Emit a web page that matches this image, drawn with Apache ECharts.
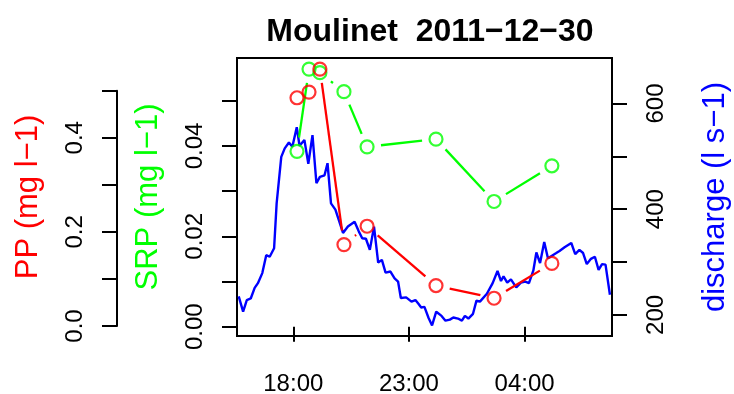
<!DOCTYPE html>
<html><head><meta charset="utf-8">
<script src="https://cdn.jsdelivr.net/npm/echarts@6/dist/echarts.min.js"></script>
<style>html,body{margin:0;padding:0;background:#fff}#c{width:734px;height:394px}</style>
</head><body><div id="c"></div>
<script>
const titleText = 'Moulinet  2011\u221212\u221230';
const xTickLabels = ['18:00', '23:00', '04:00'];
// sampling times, hours since 2011-12-30 00:00
const sampleHours = [18.16, 18.68, 19.15, 20.19, 21.19, 24.17, 26.68, 29.18];
const ppValues = [0.485, 0.497, 0.546, 0.173, 0.212, 0.086, 0.059, 0.133];
const srpValues = [0.0388, 0.0570, 0.0562, 0.0520, 0.0398, 0.0415, 0.0277, 0.0356];
const dischargeHours = [15.64, 15.83, 15.99, 16.16, 16.33, 16.47, 16.66, 16.83, 16.98, 17.17,
  17.28, 17.48, 17.63, 17.81, 17.96, 18.15, 18.27, 18.48, 18.65, 18.83,
  19.00, 19.15, 19.35, 19.48, 19.63, 19.82, 20.15, 20.36, 20.65, 20.83,
  20.98, 21.14, 21.31, 21.49, 21.67, 21.83, 21.99, 22.20, 22.38, 22.53,
  22.65, 22.88, 23.11, 23.28, 23.41, 23.53, 23.67, 23.85, 24.00, 24.18,
  24.41, 24.58, 24.77, 24.92, 25.12, 25.29, 25.42, 25.57, 25.77, 25.92,
  26.07, 26.37, 26.62, 26.83, 26.98, 27.09, 27.25, 27.41, 27.64, 27.84,
  28.03, 28.19, 28.38, 28.51, 28.67, 28.85, 29.01, 29.15, 29.37, 29.51,
  29.73, 30.02, 30.19, 30.37, 30.53, 30.69, 30.87, 31.04, 31.20, 31.35,
  31.50, 31.69];
const dischargeValues = [235, 206, 228, 231, 251, 260, 279, 313, 310, 326,
  411, 499, 515, 526, 518, 555, 520, 531, 486, 540,
  449, 461, 464, 487, 411, 399, 355, 367, 376, 358,
  345, 344, 323, 367, 299, 304, 280, 282, 269, 263,
  232, 233, 225, 228, 221, 214, 215, 194, 180, 206,
  198, 189, 191, 195, 193, 189, 198, 193, 202, 227,
  225, 240, 260, 283, 264, 273, 261, 267, 252, 261,
  263, 260, 284, 318, 298, 338, 307, 311, 317, 321,
  328, 336, 315, 323, 317, 296, 306, 310, 285, 296,
  295, 238];
const ppTicks = [0, 0.1, 0.2, 0.3, 0.4, 0.5];
const ppTickLabels = [0, 0.2, 0.4];
const srpTicks = [0, 0.01, 0.02, 0.03, 0.04, 0.05];
const srpTickLabels = [0, 0.02, 0.04];
const qTicks = [200, 300, 400, 500, 600];
const qTickLabels = [200, 400, 600];

const RED = '#FF0000', GREEN = '#00FF00', BLUE = '#0000FF';
const FONT = 'Liberation Sans';

function toHours(s) { let h = parseInt(s.split(':')[0], 10); const m = parseInt(s.split(':')[1], 10); if (h < 12) h += 24; return h + m / 60; }
const xTickValues = xTickLabels.map(toHours);
function fmtHour(v) { const h = Math.round(v) % 24; return (h < 10 ? '0' : '') + h + ':00'; }

function pairs(xs, ys) { return xs.map((x, i) => [x, ys[i]]); }
function segs(xs, ys) { const d = []; for (let i = 0; i < xs.length - 1; i++) d.push([xs[i], ys[i], xs[i + 1], ys[i + 1]]); return d; }
function gapRender(color) {
  return function (params, api) {
    const p1 = api.coord([api.value(0), api.value(1)]);
    const p2 = api.coord([api.value(2), api.value(3)]);
    const dx = p2[0] - p1[0], dy = p2[1] - p1[1], L = Math.hypot(dx, dy);
    const g = 14;
    if (L <= 2 * g) return null;
    const ux = dx / L, uy = dy / L;
    return { type: 'line', shape: { x1: p1[0] + ux * g, y1: p1[1] + uy * g, x2: p2[0] - ux * g, y2: p2[1] - uy * g },
      style: { stroke: color, lineWidth: 2.3 } };
  };
}

const tickStyle = { show: true, length: 15, lineStyle: { color: '#000', width: 2 } };
const labelBase = { color: '#000', fontFamily: FONT, fontSize: 24 };
const nameBase = { fontFamily: FONT, fontSize: 31 };

const chart = echarts.init(document.getElementById('c'), null, { renderer: 'canvas' });
chart.setOption({
  animation: false,
  backgroundColor: '#fff',
  title: { text: titleText, left: 425, top: 11, textAlign: 'center',
    textStyle: { fontFamily: FONT, fontSize: 32, fontWeight: 'bold', color: '#000' } },
  grid: [
    { left: 237, right: 122, top: 58, bottom: 58, show: true, borderColor: '#000', borderWidth: 2,
      backgroundColor: 'transparent', containLabel: false, outerBoundsMode: 'none' },
    { left: 117, width: 1, top: 90.7, bottom: 68, containLabel: false, outerBoundsMode: 'none' }
  ],
  xAxis: [
    { type: 'value', gridIndex: 0, min: 15.566, max: 31.78, axisLine: { show: false }, splitLine: { show: false },
      axisTick: Object.assign({ customValues: xTickValues }, tickStyle),
      axisLabel: Object.assign({ customValues: xTickValues, margin: 36, formatter: fmtHour }, labelBase) },
    { type: 'value', gridIndex: 1, show: false, min: 0, max: 1 }
  ],
  yAxis: [
    { type: 'value', gridIndex: 0, position: 'left', min: -0.00206, max: 0.05945, splitLine: { show: false },
      axisLine: { show: false },
      axisTick: Object.assign({ customValues: srpTicks }, tickStyle),
      axisLabel: Object.assign({ customValues: srpTickLabels, rotate: 90, margin: 30, formatter: v => v.toFixed(2) }, labelBase),
      name: 'SRP (mg l\u22121)', nameLocation: 'middle', nameGap: 73, nameTextStyle: Object.assign({ color: GREEN }, nameBase) },
    { type: 'value', gridIndex: 0, position: 'right', min: 160, max: 686, splitLine: { show: false },
      axisLine: { show: false },
      axisTick: Object.assign({ customValues: qTicks }, tickStyle),
      axisLabel: Object.assign({ customValues: qTickLabels, rotate: 90, margin: 32, formatter: v => String(v) }, labelBase),
      name: 'discharge (l s\u22121)', nameLocation: 'middle', nameGap: 88, nameTextStyle: Object.assign({ color: BLUE }, nameBase) },
    { type: 'value', gridIndex: 0, position: 'left', offset: 120, min: -0.02125, max: 0.5695, splitLine: { show: false },
      axisLine: { show: false }, axisTick: { show: false }, axisLabel: { show: false },
      name: 'PP (mg l\u22121)', nameLocation: 'middle', nameGap: 73, nameTextStyle: Object.assign({ color: RED }, nameBase) },
    { type: 'value', gridIndex: 1, position: 'left', min: 0, max: 0.5, splitLine: { show: false },
      axisLine: { show: true, lineStyle: { color: '#000', width: 2 } },
      axisTick: Object.assign({ customValues: ppTicks }, tickStyle),
      axisLabel: Object.assign({ customValues: ppTickLabels, rotate: 90, margin: 30, formatter: v => v.toFixed(1) }, labelBase) }
  ],
  series: [
    { type: 'line', xAxisIndex: 0, yAxisIndex: 1, data: pairs(dischargeHours, dischargeValues), showSymbol: false,
      lineStyle: { color: BLUE, width: 2.4 }, z: 2 },
    { type: 'custom', xAxisIndex: 0, yAxisIndex: 0, data: segs(sampleHours, srpValues), encode: { x: [0, 2], y: [1, 3] },
      renderItem: gapRender(GREEN), z: 3 },
    { type: 'custom', xAxisIndex: 0, yAxisIndex: 2, data: segs(sampleHours, ppValues), encode: { x: [0, 2], y: [1, 3] },
      renderItem: gapRender(RED), z: 3 },
    { type: 'scatter', xAxisIndex: 0, yAxisIndex: 0, data: pairs(sampleHours, srpValues), symbol: 'circle', symbolSize: 13,
      itemStyle: { color: 'rgba(0,0,0,0)', borderColor: GREEN, borderWidth: 2.2 }, z: 4 },
    { type: 'scatter', xAxisIndex: 0, yAxisIndex: 2, data: pairs(sampleHours, ppValues), symbol: 'circle', symbolSize: 13,
      itemStyle: { color: 'rgba(0,0,0,0)', borderColor: RED, borderWidth: 2.2 }, z: 4 }
  ]
});
</script></body></html>
